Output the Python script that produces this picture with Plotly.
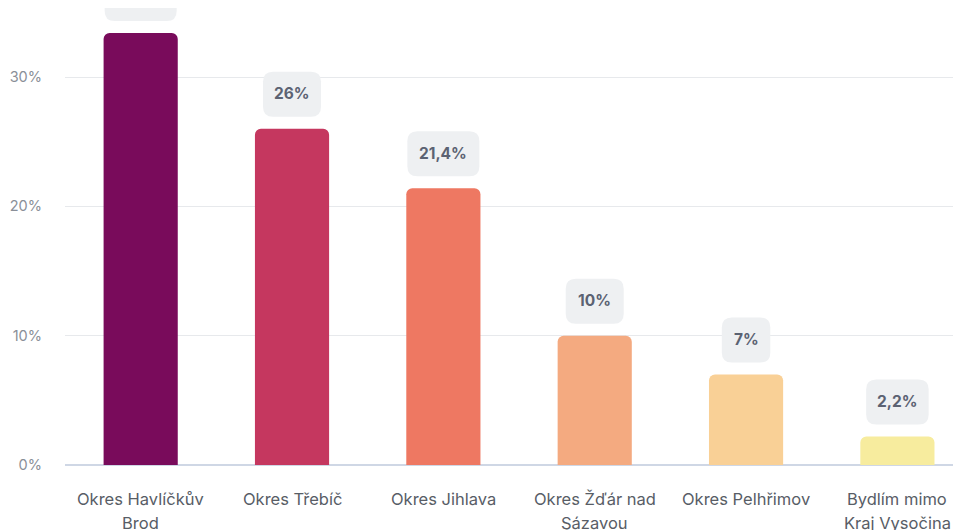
import plotly.graph_objects as go

categories = ["Okres Havlíčkův Brod", "Okres Třebíč", "Okres Jihlava",
              "Okres Žďár nad Sázavou", "Okres Pelhřimov", "Bydlím mimo Kraj Vysočina"]
label_lines = [["Okres Havlíčkův", "Brod"], ["Okres Třebíč"], ["Okres Jihlava"],
               ["Okres Žďár nad", "Sázavou"], ["Okres Pelhřimov"], ["Bydlím mimo", "Kraj Vysočina"]]
values = [33.4, 26, 21.4, 10, 7, 2.2]
value_labels = ["33,4%", "26%", "21,4%", "10%", "7%", "2,2%"]
colors = ["#790b5b", "#c5375f", "#ee7862", "#f4aa80", "#f9d096", "#f7ec9e"]
y_ticks = [0, 10, 20, 30]
y_tick_labels = ["0%", "10%", "20%", "30%"]

FONT = "Inter, Noto Sans, sans-serif"

fig = go.Figure(go.Bar(
    x=list(range(len(categories))), y=values,
    marker=dict(color=colors, cornerradius=6, line=dict(width=0)),
    width=0.49, hoverinfo="skip",
))

def text_w(s):
    w = 26
    for ch in s:
        w += 13 if ch == "%" else (4.5 if ch == "," else 9.5)
    return w

def rrect(w, y0, y1, r):
    x0, x1 = -w / 2, w / 2
    return (f"M {x0+r},{y0} L {x1-r},{y0} Q {x1},{y0} {x1},{y0+r} "
            f"L {x1},{y1-r} Q {x1},{y1} {x1-r},{y1} L {x0+r},{y1} "
            f"Q {x0},{y1} {x0},{y1-r} L {x0},{y0+r} Q {x0},{y0} {x0+r},{y0} Z")

shapes = []
annotations = []
for i, (v, lab) in enumerate(zip(values, value_labels)):
    w = text_w(lab)
    shapes.append(dict(type="path", xref="x", yref="y", xsizemode="pixel", ysizemode="pixel",
                       xanchor=i, yanchor=v, path=rrect(w, 12, 57, 10),
                       fillcolor="#eef0f2", line=dict(width=0), layer="above"))
    annotations.append(dict(x=i, y=v, xref="x", yref="y", text=f"<b>{lab}</b>", showarrow=False,
                            yshift=35, font=dict(family=FONT, size=15.5, color="#5b6272"),
                            xanchor="center", yanchor="middle"))
    for j, line in enumerate(label_lines[i]):
        annotations.append(dict(x=i, y=0, xref="x", yref="y", text=line, showarrow=False,
                                yshift=-34 - 24 * j, font=dict(family=FONT, size=16.5, color="#585d66"),
                                xanchor="center", yanchor="middle"))

fig.update_layout(
    width=961, height=530,
    margin=dict(l=57, r=0, t=0, b=73),
    paper_bgcolor="white", plot_bgcolor="white",
    showlegend=False,
    shapes=shapes, annotations=annotations,
    xaxis=dict(range=[-0.5, 5.473], showticklabels=False, showgrid=False, zeroline=False,
               showline=False, ticks=""),
    yaxis=dict(range=[0, 35.34], tickvals=y_ticks, ticktext=y_tick_labels, showgrid=True,
               gridcolor="#e7e9ec", gridwidth=1, zeroline=True, zerolinecolor="#cfd7e5",
               zerolinewidth=1.5, showline=False, ticks="", ticklabelstandoff=22,
               tickfont=dict(family=FONT, size=14.5, color="#8a8f98")),
    font=dict(family=FONT),
)

fig.write_html("out.html")
